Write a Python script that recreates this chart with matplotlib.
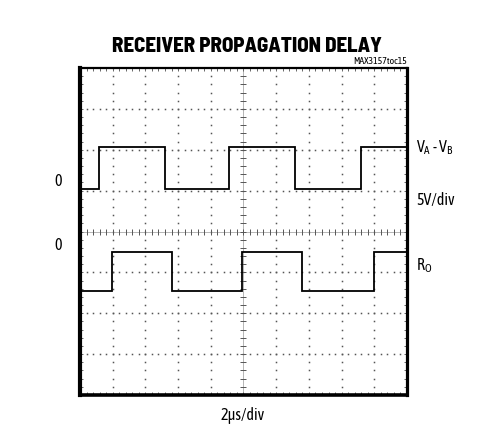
import numpy as np
import matplotlib.pyplot as plt

# scope screen: 10 x 8 divisions, 2us/div horizontally, 5V/div vertically
n_xdiv = 10
n_ydiv = 8

# V_A - V_B trace (levels in divisions, edges in divisions)
va_edges = [0, 0.59, 2.60, 4.57, 6.57, 8.58, 10]
va_levels = [5.03, 6.07, 5.03, 6.07, 5.03, 6.07]

# R_O trace
ro_edges = [0, 0.97, 2.80, 4.96, 6.80, 8.99, 10]
ro_levels = [2.55, 3.49, 2.55, 3.49, 2.55, 3.49]

title = 'RECEIVER PROPAGATION DELAY'
tag = 'MAX3157toc15'
right_labels = [('$\\mathregular{V_A}$ - $\\mathregular{V_B}$', 148), ('5V/div', 201), ('$\\mathregular{R_O}$', 266)]
zero_labels_y = [181, 245]
xlabel = '2\u03bcs/div'

plt.rcParams['font.family'] = ['Asap Condensed', 'DejaVu Sans']
plt.rcParams['mathtext.fontset'] = 'custom'
plt.rcParams['mathtext.rm'] = 'Asap Condensed'

W, H = 485, 430
fig = plt.figure(figsize=(W / 100, H / 100), dpi=100)
ax = fig.add_axes([80 / W, (H - 395) / H, 327 / W, 327 / H])
ax.set_xlim(0, n_xdiv)
ax.set_ylim(0, n_ydiv)

mx = np.arange(0, n_xdiv + 0.01, 0.2)
my = np.arange(0, n_ydiv + 0.01, 0.2)

# dotted graticule
for i in range(1, n_xdiv):
    if i != n_xdiv // 2:
        ax.plot(np.full_like(my, i), my, ls='none', marker='s', ms=1.1, mew=0,
                color='#555555', zorder=1)
for j in range(1, n_ydiv):
    if j != n_ydiv // 2:
        ax.plot(mx, np.full_like(mx, j), ls='none', marker='s', ms=1.1, mew=0,
                color='#555555', zorder=1)

# center crosshair with minor ticks
ax.axvline(n_xdiv / 2, color='#999999', lw=0.5, zorder=1)
ax.axhline(n_ydiv / 2, color='#999999', lw=0.5, zorder=1)
ax.plot(mx, np.full_like(mx, n_ydiv / 2), ls='none', marker='|', ms=4, mew=0.7,
        color='#555555', zorder=1)
ax.plot(np.full_like(my, n_xdiv / 2), my, ls='none', marker='_', ms=4, mew=0.7,
        color='#555555', zorder=1)

# traces
ax.stairs(va_levels, va_edges, baseline=None, color='black', lw=1.3, zorder=3)
ax.stairs(ro_levels, ro_edges, baseline=None, color='black', lw=1.3, zorder=3)

# frame ticks
ax.set_xticks([])
ax.set_yticks([])
ax.set_xticks(mx, minor=True)
ax.set_yticks(my, minor=True)
ax.tick_params(which='minor', direction='in', length=2, width=0.7, color='#666666',
               top=True, right=True, bottom=True, left=True,
               labelbottom=False, labelleft=False)
for s in ax.spines.values():
    s.set_color('black')
ax.spines['left'].set_linewidth(3)
ax.spines['right'].set_linewidth(2.3)
ax.spines['bottom'].set_linewidth(2.6)
ax.spines['top'].set_linewidth(1.6)

# texts
fig.text(247 / W, 1 - 47 / H, title, ha='center', va='center', fontsize=15,
         fontweight='heavy', family=['Barlow Semi Condensed', 'DejaVu Sans'])
fig.text(407 / W, 1 - 61 / H, tag, ha='right', va='center', fontsize=7)
for lab, py in right_labels:
    fig.text(416 / W, 1 - py / H, lab, ha='left', va='center', fontsize=11.5)
for py in zero_labels_y:
    fig.text(58 / W, 1 - py / H, '0', ha='center', va='center', fontsize=11.5)
fig.text(243 / W, 1 - 416 / H, xlabel, ha='center', va='center', fontsize=11.5)

fig.savefig('out.png', dpi=100)
